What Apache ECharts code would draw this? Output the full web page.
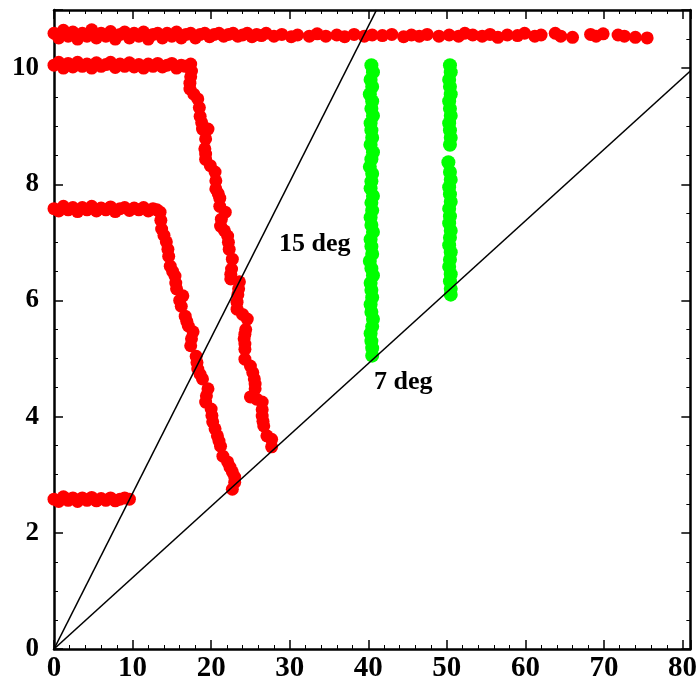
<!DOCTYPE html>
<html>
<head>
<meta charset="utf-8">
<script src="https://cdn.jsdelivr.net/npm/echarts@6/dist/echarts.min.js"></script>
<style>
html,body{margin:0;padding:0;background:#fff;}
#chart{width:700px;height:683px;}
</style>
</head>
<body>
<div id="chart"></div>
<script>
// Tick labels
var xTicks = [0, 10, 20, 30, 40, 50, 60, 70, 80];
var yTicks = [0, 2, 4, 6, 8, 10];

// Red: top band (~10.57)
var redTop = [
  [0,10.6],[0.6,10.52],[1.2,10.65],[1.8,10.55],[2.4,10.62],[3,10.5],[3.6,10.6],[4.2,10.55],[4.8,10.66],[5.4,10.52],
  [6,10.6],[6.6,10.55],[7.2,10.63],[7.8,10.5],[8.4,10.58],[9,10.62],[9.6,10.52],[10.2,10.6],[10.8,10.55],[11.4,10.62],
  [12,10.5],[12.6,10.58],[13.2,10.6],[13.8,10.52],[14.4,10.6],[15,10.55],[15.6,10.62],[16.2,10.52],[16.8,10.58],[17.4,10.6],
  [18,10.52],[18.6,10.58],[19.2,10.6],[19.8,10.54],[20.4,10.58],[21,10.6],[21.6,10.55],[22.2,10.58],[22.8,10.6],[23.4,10.55],
  [24,10.57],[24.6,10.6],[25.2,10.54],[25.8,10.58],[26.4,10.56],[27,10.6],
  [28,10.55],[29,10.58],[30.2,10.54],[31,10.57],[32.5,10.55],[33.5,10.59],[34.6,10.55],[36,10.57],[37,10.54],[38.2,10.58],
  [39.5,10.55],[40.5,10.57],[41.8,10.56],[43,10.58],[44.5,10.54],[45.5,10.57],[46.5,10.55],[47.5,10.58],[49,10.55],[50.3,10.57],
  [51.5,10.55],[52.3,10.6],[53.3,10.57],[54.5,10.55],[55.5,10.58],[56.5,10.53],[57.7,10.57],[59,10.56],[59.9,10.6],[61.2,10.55],
  [62,10.57],[63.8,10.6],[64.5,10.55],[66,10.53],[68.3,10.58],[69,10.55],[69.9,10.59],[71.8,10.57],[72.6,10.55],[74,10.53],[75.5,10.52]
];

// Red: band at ~10.05 and its descent
var redTen = [
  [0,10.05],[0.6,10.1],[1.2,10.0],[1.8,10.08],[2.4,10.02],[3,10.1],[3.6,10.03],[4.2,10.07],[4.8,10.0],[5.4,10.09],
  [6,10.03],[6.6,10.06],[7.2,10.1],[7.8,10.01],[8.4,10.07],[9,10.03],[9.6,10.09],[10.2,10.02],[10.8,10.06],[11.4,10.0],
  [12,10.07],[12.6,10.03],[13.2,10.08],[13.8,10.02],[14.4,10.05],[15,10.08],[15.6,10.0],[16.2,10.05],[16.7,10.03],
  [17.4,10.07],[17.5,9.95],[17.4,9.85],[17.3,9.74],[17.3,9.64],[17.8,9.55],[18.3,9.47],[18.5,9.32],[18.6,9.17],[18.8,9.06],
  [18.9,8.95],[19.6,8.95],[19.3,8.78],[19.2,8.61],[19.3,8.52],[19.3,8.43],[19.9,8.32],[20.5,8.21],[20.6,8.06],[20.6,7.92],
  [20.9,7.84],[21.1,7.76],[21.1,7.62],[21.8,7.52],[21.3,7.4],[21.2,7.28],[21.7,7.2],[22.1,7.11],[22.2,7.0],[22.3,6.88],
  [22.7,6.71],[22.6,6.54],[22.5,6.45],[22.5,6.37],[23.6,6.32],[23.5,6.2],[23.4,6.1],[23.3,5.97],[23.3,5.85],[24.0,5.76],
  [24.6,5.68],[24.4,5.5],[24.3,5.42],[24.2,5.34],[24.3,5.25],[24.3,5.16],[24.3,4.99],[25.0,4.87],[25.3,4.76],[25.5,4.65],
  [25.6,4.56],[25.6,4.48],[25.0,4.34],[25.8,4.3],[26.5,4.25],[26.5,4.12],[26.5,4.01],[26.6,3.92],[26.7,3.84],[27.1,3.67],
  [27.7,3.61],[27.7,3.48]
];

// Red: band at ~7.58 and its descent
var redSeven = [
  [0,7.58],[0.6,7.54],[1.2,7.62],[1.8,7.56],[2.4,7.6],[3,7.53],[3.6,7.6],[4.2,7.56],[4.8,7.62],[5.4,7.54],
  [6,7.59],[6.6,7.56],[7.2,7.61],[7.8,7.53],[8.4,7.58],[9,7.6],[9.6,7.55],[10.2,7.59],[10.8,7.56],[11.4,7.6],
  [12,7.54],[12.6,7.58],[13.1,7.56],[13.5,7.52],[13.6,7.38],[13.7,7.23],[14.0,7.12],[14.3,7.01],[14.5,6.88],[14.6,6.76],
  [14.8,6.59],[15.1,6.5],[15.4,6.42],[15.5,6.3],[15.6,6.2],[16.4,6.08],[16.0,6.0],[16.2,5.9],[16.7,5.73],[16.9,5.64],
  [17.1,5.56],[17.7,5.46],[17.5,5.34],[17.4,5.22],[18.1,5.04],[18.2,4.93],[18.3,4.82],[18.6,4.73],[18.9,4.65],[19.6,4.48],
  [19.4,4.36],[19.3,4.25],[20.0,4.13],[20.1,4.02],[20.2,3.91],[20.5,3.79],[20.8,3.67],[21.0,3.58],[21.2,3.49],[21.5,3.32],
  [22.1,3.22],[22.4,3.13],[22.7,3.05],[23.0,2.96],[23.0,2.87],[22.7,2.75]
];

// Red: band at ~2.58
var redTwo = [
  [0,2.58],[0.6,2.54],[1.2,2.62],[1.8,2.56],[2.4,2.6],[3,2.54],[3.6,2.6],[4.2,2.56],[4.8,2.61],[5.4,2.55],
  [6,2.59],[6.6,2.56],[7.2,2.6],[7.8,2.55],[8.4,2.58],[9,2.6],[9.6,2.58]
];

// Green columns
var greenA = [
  [40.4,10.05],[40.6,9.93],[40.3,9.8],[40.5,9.68],[40.2,9.55],[40.5,9.43],[40.4,9.3],[40.6,9.18],[40.3,9.05],[40.4,8.93],
  [40.5,8.8],[40.3,8.68],[40.6,8.55],[40.4,8.43],[40.2,8.3],[40.5,8.18],[40.4,8.05],[40.3,7.93],[40.6,7.8],[40.4,7.68],
  [40.5,7.55],[40.3,7.43],[40.4,7.3],[40.6,7.18],[40.3,7.05],[40.4,6.93],[40.5,6.8],[40.2,6.68],[40.4,6.55],[40.6,6.43],
  [40.3,6.3],[40.4,6.18],[40.5,6.05],[40.3,5.93],[40.4,5.8],[40.6,5.68],[40.5,5.55],[40.3,5.43],[40.4,5.3],[40.5,5.18],[40.5,5.05]
];
var greenB = [
  [50.4,10.05],[50.5,9.93],[50.3,9.8],[50.4,9.68],[50.5,9.55],[50.3,9.43],[50.4,9.3],[50.5,9.18],[50.3,9.05],[50.4,8.93],
  [50.5,8.8],[50.4,8.68],[50.2,8.38],[50.4,8.21],[50.5,8.08],[50.3,7.95],[50.4,7.83],[50.5,7.7],[50.3,7.58],[50.4,7.45],
  [50.3,7.33],[50.5,7.2],[50.4,7.08],[50.3,6.95],[50.5,6.83],[50.4,6.7],[50.3,6.58],[50.5,6.45],[50.4,6.33],[50.5,6.2],[50.5,6.1]
];

// Reference lines (15 deg and 7 deg through origin)
var line15 = [[0,0],[41.05,11]];
var line7 = [[0,0],[81,9.95]];

function baseX(pos, showLabels){
  return {
    type:'value', min:0, max:81, interval:10, position:pos,
    axisLine:{show:true, onZero:false, lineStyle:{color:'#000', width:2.5}},
    axisTick:{show:true, inside:true, length:9, lineStyle:{color:'#000', width:1.5}},
    minorTick:{show:true, splitNumber:5, length:4, lineStyle:{color:'#000', width:1}},
    splitLine:{show:false},
    axisLabel:{show:showLabels, fontSize:29, margin:5, fontFamily:'Liberation Serif', fontWeight:'bold', color:'#000',
      formatter:function(v){ return xTicks.indexOf(v) >= 0 ? String(v) : ''; }}
  };
}
function baseY(pos, showLabels){
  return {
    type:'value', min:0, max:11, interval:2, position:pos,
    axisLine:{show:true, onZero:false, lineStyle:{color:'#000', width:2.5}},
    axisTick:{show:true, inside:true, length:9, lineStyle:{color:'#000', width:1.5}},
    minorTick:{show:true, splitNumber:4, length:4, lineStyle:{color:'#000', width:1}},
    splitLine:{show:false},
    axisLabel:{show:showLabels, fontSize:27, margin:15, fontFamily:'Liberation Serif', fontWeight:'bold', color:'#000',
      formatter:function(v){ return yTicks.indexOf(v) >= 0 ? String(v) : ''; }}
  };
}

var chart = echarts.init(document.getElementById('chart'), null, {renderer:'canvas'});
function redSeries(d){
  return {type:'scatter', data:d, symbol:'circle', symbolSize:13, itemStyle:{color:'#ff0000', opacity:1}, z:2, silent:true};
}
function greenSeries(d){
  return {type:'scatter', data:d, symbol:'circle', symbolSize:14, itemStyle:{color:'#00ff00', opacity:1}, z:2, silent:true};
}
chart.setOption({
  animation:false,
  backgroundColor:'#fff',
  grid:{left:54, right:2, top:10, bottom:33, containLabel:false},
  xAxis:[baseX('bottom', true), baseX('top', false)],
  yAxis:[baseY('left', true), baseY('right', false)],
  series:[
    redSeries(redTop), redSeries(redTen), redSeries(redSeven), redSeries(redTwo),
    greenSeries(greenA), greenSeries(greenB),
    {type:'line', data:line15, symbol:'none', clip:true, lineStyle:{color:'#000', width:1.6}, z:5, silent:true},
    {type:'line', data:line7, symbol:'none', clip:true, lineStyle:{color:'#000', width:1.6}, z:5, silent:true}
  ],
  graphic:[
    {type:'text', left:279, top:231, z:10, style:{text:'15 deg', fontSize:26, fontFamily:'Liberation Serif', fontWeight:'bold', fill:'#000'}},
    {type:'text', left:374, top:369, z:10, style:{text:'7 deg', fontSize:26, fontFamily:'Liberation Serif', fontWeight:'bold', fill:'#000'}}
  ]
});
</script>
</body>
</html>
